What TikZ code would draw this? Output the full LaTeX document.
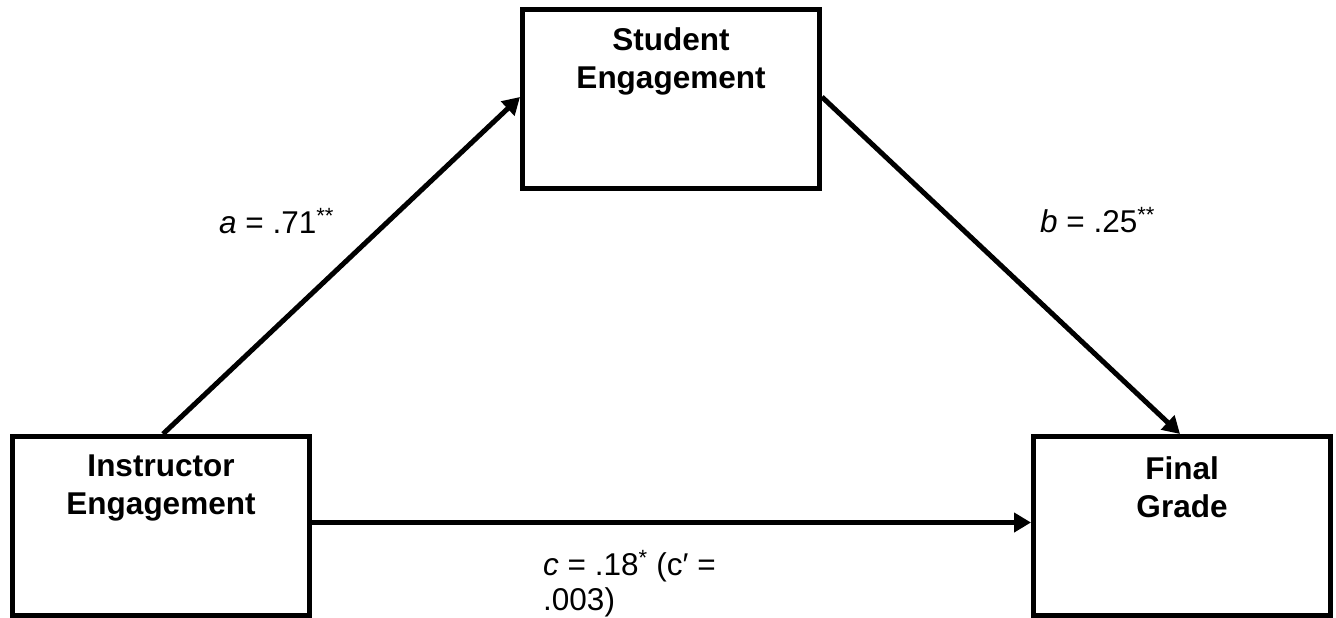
\documentclass[tikz,border=0pt]{standalone}
\usepackage{fontspec}
\setmainfont{Liberation Sans}
\usetikzlibrary{arrows.meta}
\begin{document}
\begin{tikzpicture}[x=1pt,y=-1pt,
  box/.style={draw,line width=5pt,minimum width=297pt,minimum height=179pt,inner sep=0pt},
  boxtext/.style={font=\fontsize{31.5}{38}\selectfont\bfseries,align=center,inner sep=0pt,anchor=north},
  lbl/.style={font=\fontsize{31.5}{35}\selectfont,inner sep=0pt,anchor=base west,align=left},
  arr/.style={line width=5pt,-{Triangle[length=17pt,width=19pt]}}]
\useasboundingbox (0,0) rectangle (1336,618);
% boxes
\node[box] (se) at (671,99) {};
\node[box] (ie) at (161,526) {};
\node[box] (fg) at (1182,526) {};
% box texts
\node[boxtext] (set) at (671,27) {Student\\Engagement};
\node[boxtext] (iet) at (161,455) {Instructor\\Engagement};
\node[boxtext] (fgt) at (1182,456) {Final\\Grade};
% connectors
\draw[arr] ([xshift=2pt]ie.north) -- ([yshift=2pt]se.west);
\draw[arr] ([yshift=2pt]se.east) -- ([xshift=-2pt]fg.north);
\draw[arr] ([yshift=3.5pt]ie.east) -- ([yshift=3.5pt]fg.west);
% labels
\node[lbl] (la) at (219,233) {\textit{a} = .71\textsuperscript{**}};
\node[lbl] (lb) at (1040,232) {\textit{b} = .25\textsuperscript{**}};
\node[lbl] (lc) at (543,610) {\textit{c} = .18\textsuperscript{*} (c′ =\\.003)};
\end{tikzpicture}
\end{document}
